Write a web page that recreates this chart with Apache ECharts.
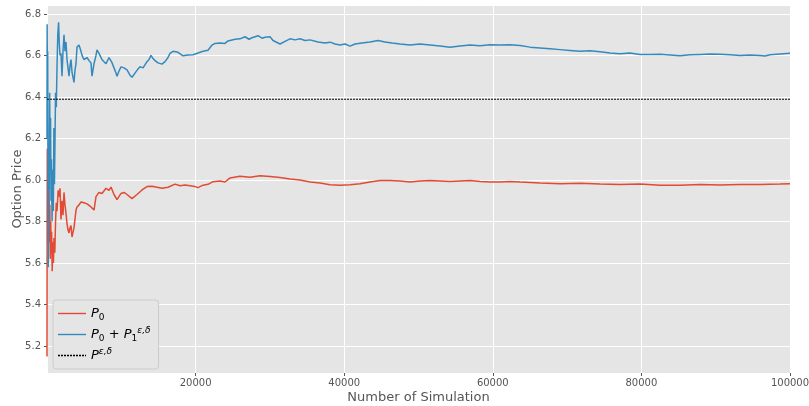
<!DOCTYPE html>
<html>
<head>
<meta charset="utf-8">
<script src="https://cdn.jsdelivr.net/npm/echarts@6/dist/echarts.min.js"></script>
<style>
  html, body { margin: 0; padding: 0; background: #fff; }
  #main { width: 809px; height: 406px; }
</style>
</head>
<body>
<div id="main"></div>
<script>
// P0 + P1 (blue)
var simBlue = [0, 20, 50, 90, 130, 160, 200, 250, 300, 360, 420, 480, 540, 600, 680, 760, 850, 930, 1000, 1080,
  1150, 1250, 1350, 1450, 1560, 1650, 1750, 1884, 2019, 2154, 2288, 2423, 2557, 2692, 2961, 3096, 3230, 3365, 3634, 3769,
  3903, 4038, 4307, 4576, 4711, 4980, 5384, 5653, 5922, 6057, 6326, 6595, 6730, 6999, 7403, 7672, 7941, 8345, 8749, 9018,
  9287, 9422, 9691, 9960, 10364, 10768, 11172, 11441, 11845, 12249, 12518, 12922, 13460, 13729, 13998, 14268, 14537, 14941, 15479, 15883,
  16287, 16556, 16960, 17229, 17633, 17902, 18306, 18575, 18979, 19248, 19652, 19921, 20325, 20594, 20998, 21267, 21671, 21940, 22209, 22613,
  22882, 23286, 23555, 23959, 24363, 24632, 25305, 25978, 26651, 27190, 27594, 28401, 28940, 29344, 30016, 30420, 30689, 31362, 32035, 32708,
  33381, 34054, 34727, 35400, 36477, 37419, 38092, 38765, 39438, 40111, 40784, 41457, 42399, 43476, 44553, 45495, 46437, 47514, 48860, 50206,
  51552, 52898, 54244, 55590, 56936, 58282, 59628, 60974, 62320, 63666, 65012, 66358, 67704, 69050, 70396, 71742, 73088, 74434, 75780, 77126,
  78472, 79818, 81164, 82510, 83856, 85202, 86548, 87894, 89240, 90586, 91932, 93278, 94624, 95970, 96643, 97316, 98662, 100000];
var priceBlue = [6.20, 6.75, 6.45, 6.62, 6.05, 5.58, 5.75, 6.15, 5.95, 6.42, 6.05, 6.30, 5.90, 6.10, 5.80, 6.05, 5.85, 6.25, 5.98, 6.20,
  6.42, 6.35, 6.55, 6.70, 6.76, 6.66, 6.60, 6.61, 6.50, 6.62, 6.70, 6.62, 6.665, 6.58, 6.50, 6.55, 6.58, 6.52, 6.47, 6.53,
  6.56, 6.64, 6.65, 6.62, 6.60, 6.58, 6.59, 6.575, 6.564, 6.50, 6.56, 6.60, 6.627, 6.61, 6.58, 6.57, 6.56, 6.59, 6.565, 6.54,
  6.515, 6.50, 6.525, 6.545, 6.54, 6.53, 6.505, 6.495, 6.515, 6.535, 6.546, 6.54, 6.57, 6.58, 6.60, 6.585, 6.575, 6.564, 6.558, 6.57,
  6.59, 6.61, 6.62, 6.623, 6.615, 6.608, 6.598, 6.594, 6.602, 6.605, 6.603, 6.61, 6.612, 6.615, 6.62, 6.627, 6.625, 6.63, 6.65, 6.658,
  6.667, 6.66, 6.664, 6.658, 6.67, 6.675, 6.678, 6.68, 6.69, 6.678, 6.685, 6.695, 6.683, 6.688, 6.69, 6.672, 6.665, 6.655, 6.668, 6.68,
  6.675, 6.68, 6.672, 6.675, 6.665, 6.66, 6.664, 6.655, 6.65, 6.655, 6.645, 6.655, 6.66, 6.665, 6.672, 6.665, 6.66, 6.655, 6.65, 6.655,
  6.65, 6.645, 6.64, 6.645, 6.65, 6.647, 6.652, 6.65, 6.652, 6.648, 6.64, 6.636, 6.632, 6.628, 6.624, 6.62, 6.622, 6.618, 6.612, 6.608,
  6.612, 6.605, 6.605, 6.606, 6.602, 6.598, 6.603, 6.605, 6.607, 6.606, 6.603, 6.60, 6.602, 6.60, 6.597, 6.603, 6.607, 6.61];

// P0 (red)
var simRed = [0, 20, 40, 70, 100, 140, 180, 230, 280, 330, 380, 440, 500, 560, 620, 700, 780, 860, 940, 1050,
  1150, 1250, 1350, 1500, 1600, 1750, 1884, 2019, 2154, 2288, 2423, 2557, 2692, 2826, 2961, 3096, 3230, 3365, 3634, 3903,
  4038, 4307, 4576, 4980, 5384, 5922, 6326, 6595, 6999, 7403, 7941, 8345, 8614, 9018, 9422, 9960, 10364, 10768, 11441, 12114,
  12787, 13460, 14133, 14806, 15479, 16287, 17229, 17902, 18575, 19248, 19921, 20325, 20998, 21671, 22344, 23286, 23959, 24632, 25978, 27324,
  28670, 30016, 31362, 32708, 34054, 35400, 36746, 38092, 39438, 40784, 42130, 43476, 44822, 46168, 47514, 48860, 50206, 51552, 52898, 54244,
  55590, 56936, 58282, 59628, 60974, 62320, 63666, 65012, 66358, 69050, 71742, 74434, 77126, 79818, 82510, 85202, 87894, 90586, 93278, 95970,
  98662, 100000];
var priceRed = [5.15, 5.80, 6.15, 5.90, 6.05, 5.70, 6.00, 5.85, 5.95, 5.70, 5.88, 5.62, 5.80, 5.65, 5.75, 5.56, 5.70, 5.60, 5.72, 5.65,
  5.80, 5.89, 5.85, 5.95, 5.92, 5.96, 5.81, 5.90, 5.83, 5.94, 5.88, 5.84, 5.79, 5.76, 5.745, 5.77, 5.78, 5.725, 5.77, 5.855,
  5.87, 5.88, 5.894, 5.89, 5.885, 5.87, 5.855, 5.92, 5.94, 5.935, 5.96, 5.95, 5.966, 5.93, 5.905, 5.935, 5.94, 5.93, 5.91, 5.93,
  5.952, 5.968, 5.97, 5.965, 5.96, 5.965, 5.98, 5.972, 5.976, 5.972, 5.968, 5.963, 5.975, 5.979, 5.992, 5.995, 5.99, 6.01, 6.018, 6.013,
  6.02, 6.017, 6.012, 6.005, 6.00, 5.99, 5.985, 5.977, 5.974, 5.977, 5.982, 5.99, 5.997, 5.998, 5.995, 5.99, 5.995, 5.997, 5.995, 5.993,
  5.995, 5.997, 5.993, 5.99, 5.99, 5.993, 5.99, 5.988, 5.985, 5.982, 5.984, 5.98, 5.978, 5.98, 5.975, 5.975, 5.978, 5.976, 5.978, 5.978,
  5.98, 5.982];

// P^{eps,delta} reference level
var simRef = [0, 100000];
var priceRef = [6.389, 6.389];

function pairs(xs, ys) {
  return xs.map(function (x, i) { return [x, ys[i]]; });
}

// legend swatches: plain line, and a dashed one made of little bars
var solidIcon = 'path://M0,0h28v1.4h-28z';
var dashIcon = 'path://M0,0h2v1.4h-2zM3,0h2v1.4h-2zM6,0h2v1.4h-2zM9,0h2v1.4h-2zM12,0h2v1.4h-2zM15,0h2v1.4h-2zM18,0h2v1.4h-2zM21,0h2v1.4h-2zM24,0h2v1.4h-2zM27,0h1v1.4h-1z';

var mychart = echarts.init(document.getElementById('main'), null, { renderer: 'canvas' });
var font = 'DejaVu Sans';

var option = {
  animation: false,
  backgroundColor: '#fff',
  grid: {
    left: 47, right: 19, top: 5, bottom: 33,
    containLabel: false,
    outerBoundsMode: 'none',
    show: true, backgroundColor: '#E5E5E5', borderWidth: 0
  },
  legend: {
    orient: 'vertical',
    left: 53, top: 300,
    data: [
      { name: 'P0', icon: solidIcon },
      { name: 'P0P1', icon: solidIcon },
      { name: 'Pref', icon: dashIcon }
    ],
    backgroundColor: '#E5E5E5',
    borderColor: '#CCCCCC',
    borderWidth: 1,
    borderRadius: 3,
    padding: [5, 8, 5, 5],
    itemWidth: 28,
    itemHeight: 1.4,
    itemGap: 4,
    formatter: function (name) {
      if (name === 'P0') return '{i|P}{s|0}';
      if (name === 'P0P1') return '{i|P}{s|0}{t| + }{i|P}{s|1}{u|ε,δ}';
      return '{i|P}{u|ε,δ}';
    },
    textStyle: {
      fontFamily: font,
      color: '#000',
      lineHeight: 17,
      rich: {
        i: { fontFamily: font, fontStyle: 'italic', fontSize: 13, color: '#000', lineHeight: 17 },
        t: { fontFamily: font, fontSize: 13, color: '#000', lineHeight: 17 },
        s: { fontFamily: font, fontSize: 9, color: '#000', verticalAlign: 'bottom', lineHeight: 9 },
        u: { fontFamily: font, fontStyle: 'italic', fontSize: 9, color: '#000', verticalAlign: 'top', lineHeight: 9 }
      }
    }
  },
  xAxis: {
    type: 'value',
    min: 0,
    max: 100000,
    interval: 20000,
    name: 'Number of Simulation',
    nameLocation: 'middle',
    nameGap: 18,
    nameMoveOverlap: false,
    nameTextStyle: { fontFamily: font, fontSize: 13, color: '#555' },
    axisLine: { show: false },
    axisTick: { show: true, length: 3, lineStyle: { color: '#555' } },
    axisLabel: {
      showMinLabel: false, fontFamily: font, fontSize: 10, color: '#555', margin: 5,
      formatter: function (v) { return String(v); }
    },
    splitLine: { show: true, lineStyle: { color: '#fff', width: 1 } }
  },
  yAxis: {
    type: 'value',
    min: 5.07,
    max: 6.843,
    splitNumber: 9,
    name: 'Option Price',
    nameLocation: 'middle',
    nameGap: 23,
    nameMoveOverlap: false,
    nameTextStyle: { fontFamily: font, fontSize: 13, color: '#555' },
    axisLine: { show: false },
    axisTick: { show: true, length: 3, lineStyle: { color: '#555' } },
    axisLabel: {
      showMinLabel: false, showMaxLabel: false,
      fontFamily: font, fontSize: 10, color: '#555', margin: 6,
      formatter: function (v) { return v.toFixed(1); }
    },
    splitLine: { show: true, lineStyle: { color: '#fff', width: 1 } }
  },
  series: [
    {
      name: 'P0', type: 'line', symbol: 'none',
      data: pairs(simRed, priceRed),
      lineStyle: { color: '#E24A33', width: 1.5 },
      itemStyle: { color: '#E24A33' }
    },
    {
      name: 'P0P1', type: 'line', symbol: 'none',
      data: pairs(simBlue, priceBlue),
      lineStyle: { color: '#348ABD', width: 1.5 },
      itemStyle: { color: '#348ABD' }
    },
    {
      name: 'Pref', type: 'line', symbol: 'none',
      data: pairs(simRef, priceRef),
      lineStyle: { color: '#000', width: 1, type: [2, 1] },
      itemStyle: { color: '#000' }
    }
  ]
};

mychart.setOption(option);
</script>
</body>
</html>
